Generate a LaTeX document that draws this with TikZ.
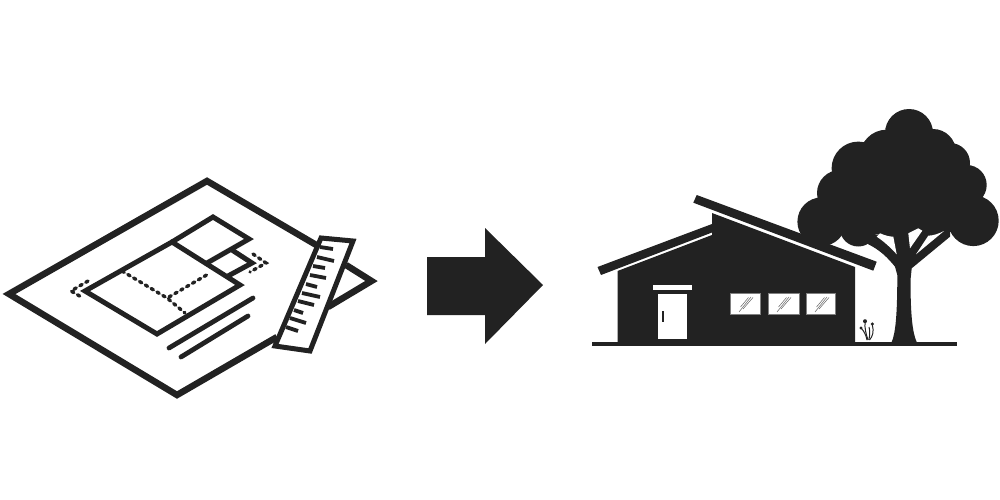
\documentclass[tikz,border=0pt]{standalone}
\usepackage{xcolor}
\definecolor{ink}{HTML}{222222}
\tikzset{
    paper/.style={draw=ink, line width=6.5pt, miter limit=10},
    plan/.style={draw=ink, line width=5pt},
    dots/.style={draw=ink, line width=3.4pt, line cap=round, dash pattern=on 2.6pt off 4.2pt},
    textline/.style={draw=ink, line width=4.8pt, line cap=round},
    tick/.style={draw=ink, line width=3.8pt},
    solid/.style={fill=ink, draw=none},
    gap/.style={fill=white, draw=none},
    pane/.style={fill=white, draw=gray, line width=0.8pt},
    glint/.style={draw=ink!70, line width=0.5pt},
    stem/.style={draw=ink, line width=1pt}
}
\begin{document}
\begin{tikzpicture}[x=1pt, y=-1pt]
    \useasboundingbox (0, 0) rectangle (1000, 500);

    % sheet
    \draw[paper] (277, 337) -- (177, 395) -- (9, 294) -- (207, 181) -- (318, 246);
    \draw[paper] (346, 265) -- (371.5, 281) -- (328, 307);

    % floor plan
    \draw[plan] (85, 291) -- (172, 242) -- (240, 285) -- (157, 334) -- cycle;
    \draw[plan] (172, 242) -- (213, 217) -- (249, 239) -- (207, 263);
    \draw[plan] (232, 250) -- (252, 263) -- (228, 276);
    \draw[dots] (122, 271) -- (167, 298) -- (185, 313);
    \draw[dots] (169, 297) -- (210, 273);
    \draw[dots] (88, 281) -- (71, 291) -- (83, 298);
    \draw[dots] (253, 254) -- (266, 263) -- (250, 272);
    \draw[textline] (169, 348) -- (253, 298);
    \draw[textline] (181, 357) -- (248, 316);

    % ruler
    \draw[plan, fill=white] (321, 238) -- (353, 241) -- (310, 351) -- (275, 346) -- cycle;
    \foreach \xa/\ya/\xb/\yb in {320/247/333/249, 317/257/334/261, 313/266/325/268, 310/275/326/278, 306/284/317/287,
        302/293/320/297, 298/301/314/305, 294/310/303/313, 290/318/306/323, 286/327/298/331}
        \draw[tick] (\xa, \ya) -- (\xb, \yb);

    % arrow
    \fill[solid] (427, 257) -- (485, 257) -- (485, 228) -- (543, 285) -- (485, 344) -- (485, 315) -- (427, 315) -- cycle;

    % house
    \fill[solid] (592, 342) rectangle (957, 346);
    \fill[solid] (617.5, 343) -- (617.5, 271) -- (712, 235) -- (712, 213) -- (855, 267) -- (855, 343) -- cycle;
    \fill[solid] (597.5, 267) -- (712, 224) -- (712, 232.5) -- (601, 275) -- cycle;
    \fill[solid] (696.7, 195) -- (876.7, 261.7) -- (873.3, 270.7) -- (693.3, 202.7) -- cycle;
    \fill[gap] (653, 285) rectangle (692.3, 290.3);
    \fill[gap] (658, 293.7) rectangle (687.3, 339);
    \fill[solid] (661.7, 311) rectangle (664, 322);
    \foreach \xl/\xr in {730/760.7, 768/799, 806/835.3} {
        \draw[pane] (\xl, 293.3) rectangle (\xr, 314.3);
        \draw[glint] (\xl + 9, 312) -- (\xl + 21, 297);
        \draw[glint] (\xl + 13, 309) -- (\xl + 23, 297.5);
        \draw[glint] (\xl + 10.5, 307) -- (\xl + 18.5, 297.5);
    }

    % grass
    \fill[solid] (865, 321.2) circle (2);
    \fill[solid] (872.3, 324) circle (1.7);
    \fill[solid] (861, 328) circle (1.7);
    \draw[stem] (868, 340) .. controls (866, 334) and (864.5, 328) .. (865, 322);
    \draw[stem] (869.5, 340) .. controls (873, 336) and (874, 331) .. (872.3, 325);
    \draw[stem] (867, 340) .. controls (866, 335) and (864, 331) .. (861, 328);
    \draw[stem] (868.8, 340) .. controls (870, 335) and (870, 331) .. (869, 327);

    % tree
    \foreach \cx/\cy/\cr in {909/133/24, 858.3/168.3/26.7, 886.7/156.7/27, 933/152/23, 950/163/20, 966.7/185/20,
        973.3/220.7/25.4, 821.7/221.7/24.3, 840/193/23, 858.3/228/18.5, 906/190/42}
        \fill[solid] (\cx, \cy) circle (\cr);
    \fill[solid] (825, 215) -- (835, 180) -- (860, 150) -- (905, 125) -- (945, 160) -- (975, 195) -- (975, 225) -- (950, 232)
        -- (860, 235) -- cycle;
    \fill[solid] (891.7, 342) .. controls (895.5, 333) and (897.3, 315) .. (897.3, 275)
        -- (895, 266.7) .. controls (888, 258) and (880, 250) .. (868.3, 244.3) -- (862, 236) -- (950, 228) -- (950, 236.7)
        -- (911.7, 268.3) -- (910.5, 280) .. controls (910.5, 315) and (912.5, 333) .. (916.7, 342) -- cycle;
    \fill[gap] (876.7, 236.7) -- (880, 233.3) .. controls (885, 235.5) and (889, 236.5) .. (893.3, 236.7)
        -- (896.7, 254.3) .. controls (890, 247) and (884, 241.5) .. (876.7, 236.7) -- cycle;
    \fill[gap] (908.3, 233.3) -- (918.3, 228.3) -- (922.3, 230.7) -- (910, 248.3) -- cycle;
    \fill[gap] (928.3, 235.7) .. controls (934, 235.5) and (939, 233.5) .. (944, 231) -- (916, 254.3) -- cycle;
\end{tikzpicture}
\end{document}
